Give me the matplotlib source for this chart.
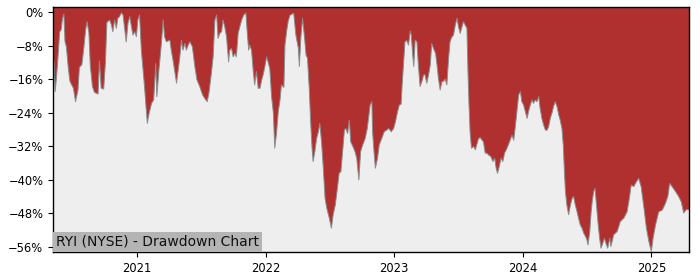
import matplotlib
matplotlib.use("Agg")
import matplotlib.pyplot as plt
import matplotlib.dates as mdates
from matplotlib.ticker import FuncFormatter, MultipleLocator
import pandas as pd

TITLE = "RYI (NYSE) - Drawdown Chart"

dates_2020 = ["2020-05-07","2020-05-10","2020-05-13","2020-05-17","2020-05-21","2020-05-26","2020-05-30",
              "2020-06-03","2020-06-07","2020-06-10","2020-06-14","2020-06-19","2020-06-24","2020-06-29",
              "2020-07-04","2020-07-10","2020-07-17","2020-07-21","2020-07-28","2020-08-02","2020-08-08",
              "2020-08-12","2020-08-17","2020-08-21","2020-08-27","2020-09-02","2020-09-12","2020-09-16",
              "2020-09-21","2020-09-28","2020-10-03","2020-10-07","2020-10-15","2020-10-20","2020-10-24",
              "2020-10-29","2020-11-03","2020-11-07","2020-11-12","2020-11-17","2020-11-22","2020-11-27",
              "2020-12-01","2020-12-06","2020-12-11","2020-12-16","2020-12-20","2020-12-25","2020-12-30"]
dd_2020 = [-10.5,-12.0,-19.0,-15.6,-11.0,-4.7,-4.3,
           -1.5,-0.5,-7.0,-8.3,-13.0,-16.5,-17.4,
           -18.2,-21.4,-18.6,-13.2,-12.6,-9.0,-4.1,
           -2.3,-5.0,-12.8,-17.8,-19.2,-19.6,-11.7,
           -18.2,-18.4,-12.0,-2.5,-1.9,-3.1,-4.7,
           -1.9,-3.9,-1.5,-1.1,-0.2,-0.7,-4.3,
           -7.1,-2.7,-1.1,-3.5,-5.5,-4.7,-5.9]

dates_2021 = ["2021-01-03","2021-01-08","2021-01-13","2021-01-18","2021-01-22","2021-01-27","2021-01-30",
              "2021-02-04","2021-02-11","2021-02-17","2021-02-23","2021-02-26","2021-03-04","2021-03-11",
              "2021-03-16","2021-03-20","2021-03-25","2021-04-04","2021-04-08","2021-04-13","2021-04-18",
              "2021-04-23","2021-05-02","2021-05-07","2021-05-11","2021-05-17","2021-05-21","2021-05-26",
              "2021-05-31","2021-06-07","2021-06-14","2021-06-20","2021-06-28","2021-07-06","2021-07-12",
              "2021-07-19","2021-07-24","2021-07-31","2021-08-05","2021-08-10","2021-08-15","2021-08-19",
              "2021-08-24","2021-08-29","2021-09-02","2021-09-07","2021-09-12","2021-09-18","2021-09-21",
              "2021-09-26","2021-10-01","2021-10-06","2021-10-10","2021-10-15","2021-10-20","2021-10-25",
              "2021-10-31","2021-11-06","2021-11-10","2021-11-14","2021-11-17","2021-11-22","2021-11-27",
              "2021-12-01","2021-12-06","2021-12-11","2021-12-16","2021-12-21","2021-12-25","2021-12-30"]
dd_2021 = [-1.9,-0.7,-9.1,-13.8,-17.8,-23.4,-26.6,
           -24.2,-21.8,-21.0,-12.3,-20.2,-13.8,-7.5,
           -1.9,-5.9,-7.1,-6.7,-9.1,-11.5,-14.2,
           -17.0,-11.0,-6.7,-9.1,-7.5,-9.1,-7.9,
           -7.1,-8.3,-13.0,-16.2,-17.8,-19.8,-20.6,
           -21.4,-19.4,-14.6,-10.7,-1.9,-0.7,-6.3,
           -5.1,-4.7,-1.9,-3.5,-5.9,-11.9,-9.1,
           -8.7,-10.7,-9.9,-10.7,-5.1,-3.5,-1.9,
           -0.7,-0.2,-5.1,-9.1,-7.9,-9.1,-14.2,
           -17.4,-14.2,-18.2,-18.2,-16.2,-15.0,-13.0]

dates_2022 = ["2022-01-04","2022-01-08","2022-01-13","2022-01-18","2022-01-23","2022-01-27","2022-02-01",
              "2022-02-06","2022-02-11","2022-02-15","2022-02-22","2022-02-25","2022-03-02","2022-03-06",
              "2022-03-11","2022-03-17","2022-03-22","2022-03-28","2022-04-04","2022-04-07","2022-04-11",
              "2022-04-16","2022-04-21","2022-04-26","2022-04-30","2022-05-05","2022-05-09","2022-05-13",
              "2022-05-16","2022-05-21","2022-05-26","2022-05-31","2022-06-04","2022-06-09","2022-06-14",
              "2022-06-19","2022-06-24","2022-07-01","2022-07-07","2022-07-12","2022-07-18","2022-07-24",
              "2022-07-29","2022-08-03","2022-08-08","2022-08-13","2022-08-17","2022-08-22","2022-08-27",
              "2022-08-31","2022-09-06","2022-09-12","2022-09-17","2022-09-23","2022-09-28","2022-10-04",
              "2022-10-11","2022-10-17","2022-10-25","2022-10-30","2022-11-01","2022-11-05","2022-11-09",
              "2022-11-15","2022-11-20","2022-11-27","2022-12-04","2022-12-11","2022-12-17","2022-12-24",
              "2022-12-31"]
dd_2022 = [-10.7,-11.9,-13.5,-20.2,-24.0,-32.5,-29.0,
           -23.8,-21.0,-17.4,-18.0,-7.9,-4.5,-2.3,
           -0.8,-0.5,-0.3,-5.5,-8.6,-13.0,-6.3,
           -1.5,-5.5,-10.3,-11.0,-18.2,-26.2,-32.5,
           -35.7,-33.3,-30.2,-28.6,-26.6,-31.0,-37.3,
           -44.5,-46.9,-49.2,-51.6,-48.4,-46.1,-42.1,
           -38.5,-38.1,-33.3,-28.2,-27.8,-29.0,-25.8,
           -31.0,-32.1,-33.3,-34.9,-40.1,-33.3,-31.7,
           -30.2,-27.8,-22.2,-21.4,-28.6,-33.3,-37.3,
           -34.9,-31.7,-30.2,-28.6,-28.2,-27.8,-28.6,
           -27.8]

dates_2023 = ["2023-01-05","2023-01-11","2023-01-16","2023-01-21","2023-01-24","2023-01-28","2023-02-01",
              "2023-02-06","2023-02-11","2023-02-16","2023-02-19","2023-02-23","2023-02-26","2023-03-02",
              "2023-03-07","2023-03-11","2023-03-16","2023-03-21","2023-03-26","2023-03-30","2023-04-04",
              "2023-04-09","2023-04-14","2023-04-18","2023-04-23","2023-04-29","2023-05-03","2023-05-07",
              "2023-05-12","2023-05-17","2023-05-21","2023-05-26","2023-05-31","2023-06-05","2023-06-09",
              "2023-06-14","2023-06-19","2023-06-24","2023-06-29","2023-07-03","2023-07-08","2023-07-13",
              "2023-07-17","2023-07-22","2023-07-27","2023-07-30","2023-08-02","2023-08-05","2023-08-09",
              "2023-08-15","2023-08-20","2023-08-24","2023-08-29","2023-09-03","2023-09-08","2023-09-12",
              "2023-09-17","2023-09-22","2023-09-26","2023-10-03","2023-10-09","2023-10-14","2023-10-18",
              "2023-10-22","2023-10-28","2023-11-01","2023-11-06","2023-11-11","2023-11-18","2023-11-25",
              "2023-12-02","2023-12-07","2023-12-12","2023-12-16","2023-12-21","2023-12-26","2023-12-30"]
dd_2023 = [-26.2,-23.8,-22.2,-22.0,-17.4,-12.3,-7.1,
           -6.8,-7.9,-4.5,-5.5,-10.3,-13.0,-6.7,
           -7.1,-12.6,-17.8,-16.6,-15.0,-15.0,-17.0,
           -15.0,-12.6,-7.5,-8.7,-9.9,-12.6,-15.8,
           -18.6,-16.6,-16.6,-16.0,-17.4,-11.0,-7.1,
           -6.0,-5.5,-3.1,-1.5,-3.5,-5.1,-3.5,
           -2.3,-3.1,-3.9,-14.2,-22.2,-28.6,-32.5,
           -32.1,-32.9,-31.7,-30.2,-30.0,-30.6,-31.0,
           -33.7,-33.7,-34.1,-34.5,-35.7,-34.9,-37.3,
           -38.5,-36.5,-34.9,-35.7,-33.7,-32.5,-31.0,
           -29.4,-30.6,-27.0,-23.8,-19.8,-19.0,-21.4]

dates_2024 = ["2024-01-04","2024-01-09","2024-01-14","2024-01-18","2024-01-23","2024-01-28","2024-02-01",
              "2024-02-06","2024-02-11","2024-02-16","2024-02-20","2024-02-25","2024-03-01","2024-03-06",
              "2024-03-11","2024-03-15","2024-03-20","2024-03-25","2024-03-29","2024-04-03","2024-04-08",
              "2024-04-13","2024-04-17","2024-04-22","2024-04-26","2024-04-29","2024-05-02","2024-05-06",
              "2024-05-11","2024-05-16","2024-05-21","2024-05-25","2024-05-30","2024-06-04","2024-06-08",
              "2024-06-13","2024-06-18","2024-06-23","2024-06-28","2024-07-02","2024-07-05","2024-07-10",
              "2024-07-14","2024-07-17","2024-07-21","2024-07-25","2024-07-29","2024-08-03","2024-08-07",
              "2024-08-11","2024-08-16","2024-08-21","2024-08-25","2024-08-30","2024-09-05","2024-09-08",
              "2024-09-16","2024-09-26","2024-10-05","2024-10-15","2024-10-24","2024-10-29","2024-11-05",
              "2024-11-12","2024-11-17","2024-11-26","2024-12-03","2024-12-10","2024-12-18","2024-12-25"]
dd_2024 = [-22.2,-23.8,-25.4,-23.8,-22.2,-21.0,-21.8,
           -21.0,-21.4,-20.2,-23.0,-25.4,-27.0,-28.2,
           -28.2,-27.4,-25.4,-24.0,-22.6,-21.4,-22.6,
           -24.6,-25.8,-27.8,-32.0,-38.1,-42.9,-46.1,
           -48.4,-46.1,-44.5,-44.0,-46.1,-47.7,-49.2,
           -50.8,-51.6,-52.8,-53.6,-54.4,-55.6,-52.5,
           -47.7,-45.3,-42.9,-42.1,-46.1,-50.8,-54.0,
           -56.4,-55.2,-54.0,-55.2,-56.4,-54.0,-56.0,
           -53.2,-52.4,-50.0,-49.2,-47.7,-45.3,-41.3,
           -41.7,-40.9,-39.7,-41.7,-46.1,-51.6,-54.8]

dates_2025 = ["2025-01-01","2025-01-06","2025-01-13","2025-01-22","2025-02-01","2025-02-10","2025-02-17",
              "2025-02-22","2025-03-01","2025-03-11","2025-03-20","2025-03-27","2025-04-03","2025-04-10",
              "2025-04-18"]
dd_2025 = [-57.2,-54.0,-50.8,-47.7,-47.3,-45.7,-44.0,
           -40.9,-41.7,-42.9,-44.1,-45.3,-48.0,-47.2,
           -47.2]

dates = pd.to_datetime(dates_2020 + dates_2021 + dates_2022 + dates_2023 + dates_2024 + dates_2025)
drawdown = dd_2020 + dd_2021 + dd_2022 + dd_2023 + dd_2024 + dd_2025

RED = "#b03030"
GREY_BG = "#eeeeee"

fig = plt.figure(figsize=(7, 2.8), dpi=100)
ax = fig.add_axes([53/700, 1 - 252/280, (689-53)/700, (252-7)/280])
ax.set_facecolor(RED)
ax.fill_between(dates, drawdown, -100, color=GREY_BG, lw=0)
ax.plot(dates, drawdown, color="#8c8c8c", lw=0.7)

ax.set_xlim(dates[0], dates[-1])
ax.set_ylim(-57.3, 1.2)
ax.yaxis.set_major_locator(MultipleLocator(8))
ax.yaxis.set_major_formatter(FuncFormatter(lambda v, p: f"{v:.0f}%".replace("-", "\u2212")))
ax.xaxis.set_major_locator(mdates.YearLocator())
ax.xaxis.set_major_formatter(mdates.DateFormatter("%Y"))
ax.tick_params(labelsize=8.3)
for s in ax.spines.values():
    s.set_color("black")
    s.set_linewidth(1.0)

ax.annotate(TITLE, xy=(0, 0), xycoords="axes fraction", xytext=(2, 2.2), textcoords="offset points",
            ha="left", va="bottom", fontsize=10, color="#111111",
            bbox=dict(boxstyle="square,pad=0.2", facecolor="#b4b4b4", edgecolor="none"))

fig.savefig("out.png", dpi=100)
